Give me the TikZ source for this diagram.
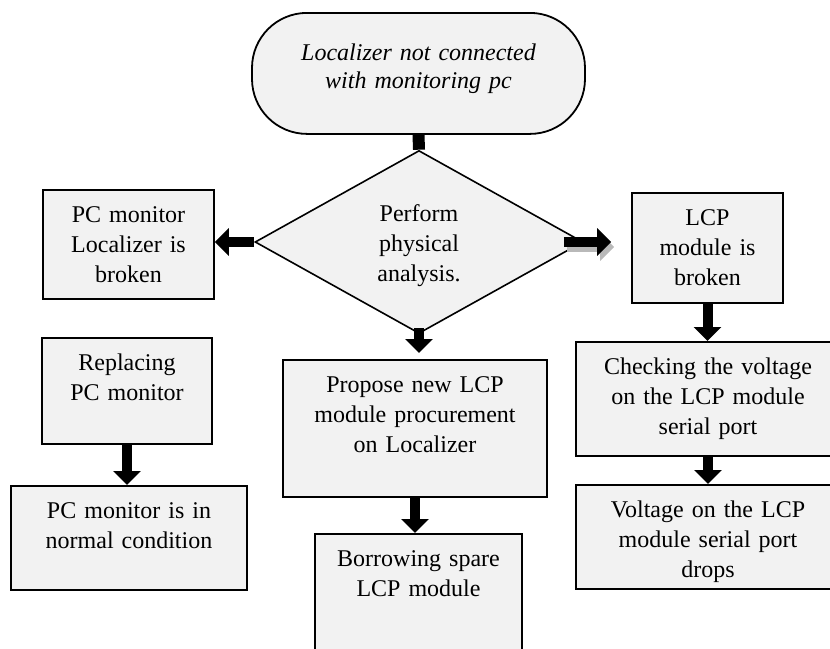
\documentclass[tikz,border=0pt]{standalone}
\usepackage{fontspec}
\setmainfont{Liberation Serif}
\usepackage{tikz}
\usetikzlibrary{arrows.meta,shapes.geometric,backgrounds}
\definecolor{boxgray}{HTML}{F2F2F2}

\begin{document}
\begin{tikzpicture}[x=1pt,y=-1pt]
            \tikzstyle{box}=[draw, fill=boxgray, line width=1.8pt, align=center, anchor=north, inner sep=0pt, text height=33pt, font=\fontsize{24}{30}\selectfont]
            \tikzstyle{term}=[box, rounded corners=55pt, text height=48pt, font=\fontsize{24}{28}\selectfont\itshape]
            \tikzstyle{decision}=[diamond, aspect=1.8, draw, fill=boxgray, line width=1.6pt, align=center, inner sep=0pt, text width=90pt, text height=24pt, text depth=66pt, minimum width=328pt, minimum height=183pt, font=\fontsize{24}{30}\selectfont]
            \tikzstyle{flow}=[line width=10pt, -{Triangle[length=14pt,width=27pt]}]
            \useasboundingbox (0,0) rectangle (830,648);
            \clip (0,0) rectangle (830,648);
            \node[term, text width=333pt, text depth=73pt] (start) at (418.5,12) {Localizer not connected\\with monitoring pc};
            \node[decision] (analysis) at (419,242) {Perform\\physical\\analysis.};
            \node[box, text width=171pt, text depth=76pt] (pcbroken) at (128.5,189) {PC monitor\\Localizer is\\broken};
            \node[box, text width=151pt, text depth=77pt] (lcpbroken) at (707.5,192) {LCP\\module is\\broken};
            \node[box, text width=170pt, text depth=73pt] (replace) at (127,337) {Replacing\\PC monitor};
            \node[box, text width=236pt, text depth=71pt] (normal) at (129,485) {PC monitor is in\\normal condition};
            \node[box, text width=264pt, text depth=104pt] (propose) at (415,359) {Propose new LCP\\module procurement\\on Localizer};
            \node[box, text width=207pt, text depth=130pt] (borrow) at (418.5,533) {Borrowing spare\\LCP module};
            \node[box, text width=264pt, text depth=81pt] (check) at (708,341) {Checking the voltage\\on the LCP module\\serial port};
            \node[box, text width=264pt, text depth=71pt] (voltage) at (708,484) {Voltage on the LCP\\module serial port\\drops};
            \begin{scope}[on background layer]
                \draw[line width=12pt] (start.south) -- (analysis.north);
            \end{scope}
            \draw[flow] (analysis.west) -- (analysis.west -| pcbroken.east);
            \draw[flow, gray!55, transform canvas={shift={(3pt,-5pt)}}] ([xshift=-20pt]analysis.east) -- ([xshift=-20pt]analysis.east -| lcpbroken.west);
            \draw[flow] ([xshift=-20pt]analysis.east) -- ([xshift=-20pt]analysis.east -| lcpbroken.west);
            \draw[flow] ([yshift=6pt]analysis.south) -- ([yshift=6pt]analysis.south |- propose.north);
            \draw[flow] (propose.south) -- (propose.south |- borrow.north);
            \draw[flow] (replace.south) -- (replace.south |- normal.north);
            \draw[flow] (lcpbroken.south) -- (lcpbroken.south |- check.north);
            \draw[flow] (check.south) -- (check.south |- voltage.north);
        \end{tikzpicture}
\end{document}
